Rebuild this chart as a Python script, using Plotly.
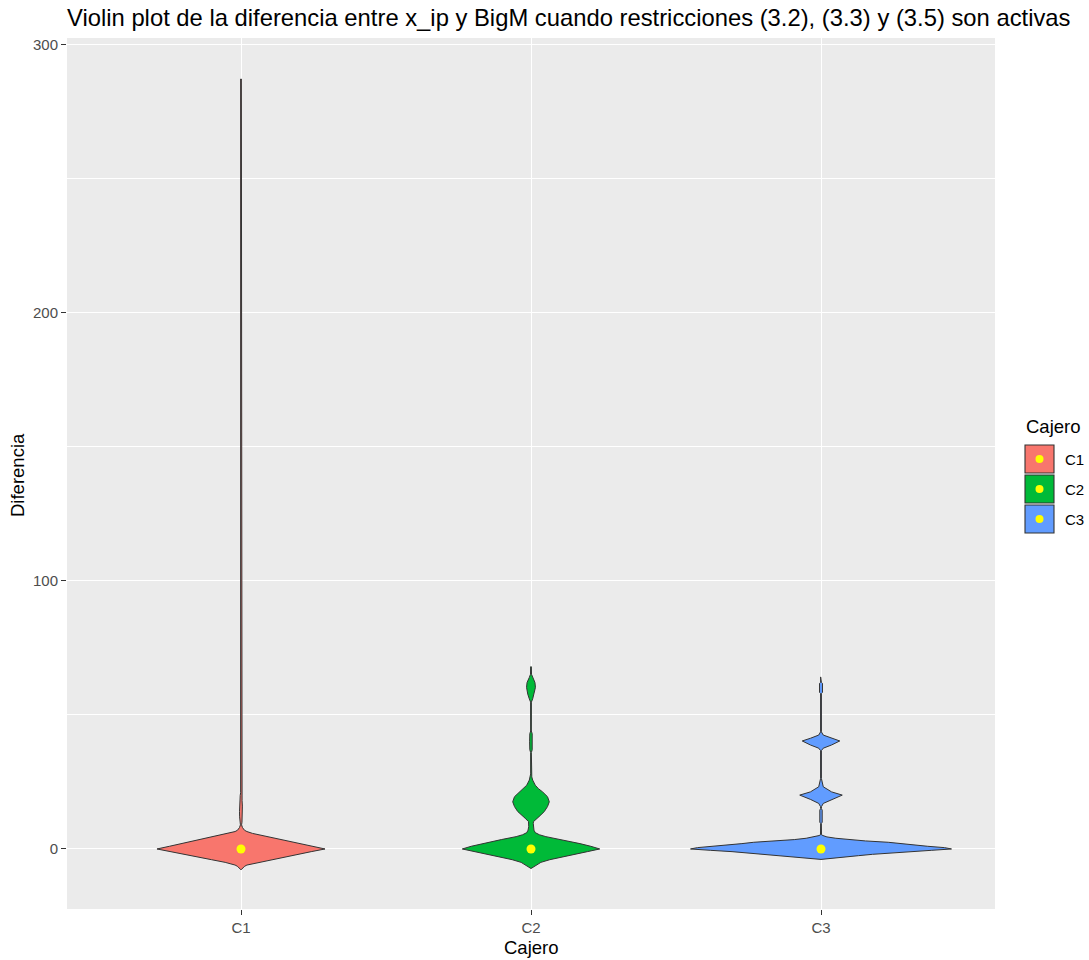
import plotly.graph_objects as go

# ---------------- data ----------------
categories = ["C1", "C2", "C3"]
fill_colors = ["#F8766D", "#00BA38", "#619CFF"]
medians = [0, 0, 0]

# violin density profiles (value, relative density)
c1_y = [-7.8, -7.5, -7, -6.5, -6, -5.3, -5, -4, -3, -2, -1, 0, 1, 2, 3, 4, 5, 5.8, 6.5, 7, 8, 9,
        10, 12, 14, 16, 18, 20, 21, 82, 83, 87.5, 88.5, 287.3]
c1_d = [0, 0.8, 2, 3.5, 6, 11.7, 16, 29.8, 43.6, 57.4, 71, 85, 72.4, 59.7, 47.1, 34.5, 21.8, 11.7, 6, 3.5, 1.5, 0.6,
        1.0, 1.4, 1.5, 1.4, 1.1, 0.8, 0.35, 0.35, 1.0, 1.0, 0.35, 0.35]

c2_y = [-7.3, -7, -6.5, -6, -5, -4, -3, -2, -1, 0, 1, 2, 2.7, 3.5, 4.6, 5.3, 6.1, 7, 8.3, 9.5,
        10.2, 11.5, 12.7, 14, 15.8, 17.6, 19.5, 21.3, 22.5, 23.8, 25.7, 26.9, 28, 36, 37, 40, 43, 44,
        54.8, 56, 57.8, 60.3, 62.1, 64, 65.2, 68]
c2_d = [0, 1.2, 3, 5, 10, 19, 31, 44, 57, 69.5, 60.5, 49.5, 41.7, 30, 15, 8.5, 4.3, 3, 2.3, 2.3,
        2.5, 6, 10, 13.5, 16.7, 18.5, 16.7, 11.7, 7.5, 4.3, 1.7, 0.8, 0.35, 0.35, 1.2, 1.4, 1.2, 0.35,
        0.4, 1.7, 3.3, 4.5, 4, 1.7, 0.5, 0.35]

c3_y = [-3.9, -3.5, -3, -2.5, -2, -1.5, -1, -0.5, 0, 0.5, 1, 1.5, 2, 2.5, 3, 3.5, 4, 4.5, 5, 5.3,
        6, 9.5, 10, 14.5, 15.1, 15.8, 17, 18.5, 20.1, 21.3, 23.2, 26.3, 36.7, 37.6, 38.8, 40.3, 41.3,
        42.5, 43.7, 58, 58.4, 60, 61.8, 62.2, 64.2]
c3_d = [0, 12, 25, 38, 52, 70, 90, 112, 132, 125, 108, 95, 80, 68, 45, 27, 15, 6, 2, 0.5,
        0.35, 0.35, 1.2, 1.2, 0.35, 0.5, 2.3, 10.7, 21.5, 10.7, 2.3, 0.4, 0.4, 2.3, 10.7, 19, 10.7,
        2.3, 0.4, 0.4, 1.5, 1.8, 1.5, 0.35, 0.35]

y_ticks = [0, 100, 200, 300]
y_minor = [50, 150, 250]

profiles = [(c1_y, c1_d), (c2_y, c2_d), (c3_y, c3_d)]

# ---------------- figure ----------------
FONT = "Liberation Sans, Arial, sans-serif"
W, H = 1089, 960
ML, MR, MT, MB = 67, 94, 38, 51
PW, PH = W - ML - MR, H - MT - MB

def px_x(x):
    return (x - ML) / PW

def px_y(y):
    return (H - MB - y) / PH

violin_width = 0.9
dmax = max(max(d) for _, d in profiles)

fig = go.Figure()
for i, (ys, ds) in enumerate(profiles):
    pos = i + 1
    hw = [violin_width / 2 * d / dmax for d in ds]
    xs = [pos - h for h in hw] + [pos + h for h in reversed(hw)]
    yy = list(ys) + list(reversed(ys))
    xs.append(xs[0]); yy.append(yy[0])
    fig.add_trace(go.Scatter(x=xs, y=yy, mode="lines", fill="toself",
                             fillcolor=fill_colors[i],
                             line=dict(color="#333333", width=1.0),
                             showlegend=False, hoverinfo="skip"))

fig.add_trace(go.Scatter(x=[1, 2, 3], y=medians, mode="markers",
                         marker=dict(color="#FFFF00", size=9),
                         showlegend=False))

grid = "#FFFFFF"
fig.update_layout(
    width=W, height=H,
    margin=dict(l=ML, r=MR, t=MT, b=MB),
    paper_bgcolor="white", plot_bgcolor="#EBEBEB",
    font=dict(family=FONT),
    showlegend=False,
    title=dict(text="Violin plot de la diferencia entre x_ip y BigM cuando restricciones (3.2), (3.3) y (3.5) son activas",
               x=0, xref="paper", xanchor="left", y=1 - 18 / H, yref="container", yanchor="middle",
               font=dict(size=23.8, color="black", family=FONT)),
    xaxis=dict(range=[0.4, 3.6], tickvals=[1, 2, 3], ticktext=categories,
               showgrid=True, gridcolor=grid, gridwidth=1.4, zeroline=False,
               ticks="outside", ticklen=5, tickcolor="#333333", tickwidth=1.3,
               tickfont=dict(size=15, color="#4D4D4D", family=FONT), fixedrange=True),
    yaxis=dict(range=[-22.4, 302.6], tickvals=y_ticks, ticktext=[str(v) for v in y_ticks],
               showgrid=True, gridcolor=grid, gridwidth=1.4, zeroline=False,
               ticks="outside", ticklen=5, tickcolor="#333333", tickwidth=1.3,
               tickfont=dict(size=15, color="#4D4D4D", family=FONT),
               minor=dict(tickvals=y_minor, showgrid=True, gridcolor=grid, gridwidth=0.7, ticks=""),
               fixedrange=True),
)

ann = []
ann.append(dict(text="Diferencia", x=px_x(17), y=px_y(475), xref="paper", yref="paper",
                textangle=-90, showarrow=False, xanchor="center", yanchor="middle",
                font=dict(size=18.5, color="black", family=FONT)))
ann.append(dict(text="Cajero", x=px_x(531), y=px_y(947), xref="paper", yref="paper",
                showarrow=False, xanchor="center", yanchor="middle",
                font=dict(size=18.5, color="black", family=FONT)))
# legend (drawn manually)
ann.append(dict(text="Cajero", x=px_x(1024), y=px_y(426), xref="paper", yref="paper",
                showarrow=False, xanchor="left", yanchor="middle",
                font=dict(size=18.5, color="black", family=FONT)))
shapes = []
for i, cat in enumerate(categories):
    top = 445 + 30 * i
    shapes.append(dict(type="rect", xref="paper", yref="paper",
                       x0=px_x(1025), x1=px_x(1054), y0=px_y(top), y1=px_y(top + 28),
                       fillcolor=fill_colors[i], line=dict(color="#333333", width=1.1)))
    cy = top + 14
    shapes.append(dict(type="circle", xref="paper", yref="paper",
                       x0=px_x(1035.5), x1=px_x(1043.5), y0=px_y(cy - 4), y1=px_y(cy + 4),
                       fillcolor="#FFFF00", line=dict(width=0)))
    ann.append(dict(text=cat, x=px_x(1063), y=px_y(cy), xref="paper", yref="paper",
                    showarrow=False, xanchor="left", yanchor="middle",
                    font=dict(size=15, color="black", family=FONT)))
fig.update_layout(annotations=ann, shapes=shapes)

fig.write_html("out.html")
